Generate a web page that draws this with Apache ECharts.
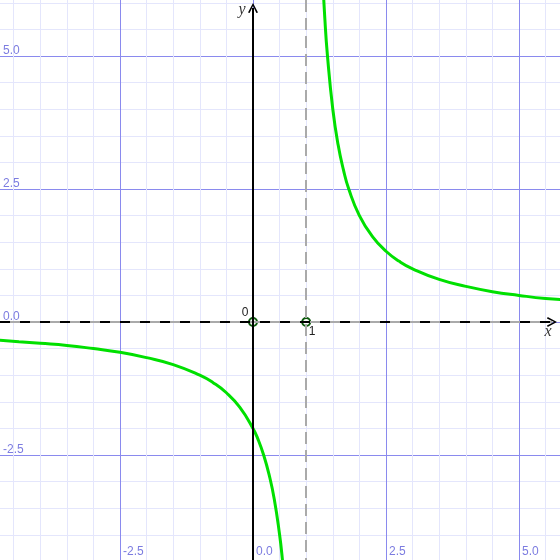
<!DOCTYPE html>
<html>
<head>
<meta charset="utf-8">
<script src="https://cdn.jsdelivr.net/npm/echarts@6/dist/echarts.min.js"></script>
<style>html,body{margin:0;padding:0;background:#fff}#c{width:560px;height:560px}</style>
</head>
<body>
<div id="c"></div>
<script>
// Curve values (two branches around the asymptote x = 1)
const leftX  = [-4.8, -4.4, -4.0, -3.5, -3.0, -2.5, -2.0, -1.5, -1.0, -0.75, -0.5, -0.25, 0.0, 0.1, 0.2, 0.3, 0.4, 0.5, 0.55, 0.6];
const leftY  = [-0.34, -0.37, -0.40, -0.44, -0.50, -0.57, -0.67, -0.80, -1.00, -1.14, -1.33, -1.60, -2.00, -2.22, -2.50, -2.86, -3.33, -4.00, -4.44, -5.00];
const rightX = [1.3, 1.35, 1.4, 1.5, 1.6, 1.7, 1.8, 2.0, 2.25, 2.5, 2.75, 3.0, 3.5, 4.0, 4.5, 5.0, 5.5, 5.8];
const rightY = [6.67, 5.71, 5.00, 4.00, 3.33, 2.86, 2.50, 2.00, 1.60, 1.33, 1.14, 1.00, 0.80, 0.67, 0.57, 0.50, 0.44, 0.42];
// Marked points on the x axis
const pointX = [0, 1];
const pointY = [0, 0];
const pointLabels = ['0', '1'];
// Axis extents and ticks
const xMin = -5, xMax = 6, yMin = -5, yMax = 6.5;
const minorStep = 0.5, majorStep = 2.5;
const asymptoteX = 1;
const xArrowEnd = 5.62, yArrowEnd = 5.9;
const axisNames = ['x', 'y'];

const chevron = 'path://M0,10 L5,0 L10,10 L8.4,10.8 L5,3.2 L1.6,10.8 Z';
const minorColor = '#e4e6fc';
const majorColor = '#8a8aee';
const labelColor = '#7c7ce0';

const chart = echarts.init(document.getElementById('c'), null, {renderer: 'canvas'});
const pair = (xs, ys) => xs.map((x, i) => [x, ys[i]]);

const option = {
  backgroundColor: '#ffffff',
  animation: false,
  grid: {left: -13, right: -12.2, top: -23.8, bottom: -28, containLabel: false, outerBoundsMode: 'none'},
  xAxis: [
    {type: 'value', min: xMin, max: xMax, interval: minorStep, axisLine: {show: false}, axisTick: {show: false}, axisLabel: {show: false},
     splitLine: {show: true, lineStyle: {color: minorColor, width: 1}}},
    {type: 'value', min: xMin, max: xMax, interval: majorStep, position: 'bottom', axisLine: {show: false, onZero: false}, axisTick: {show: false},
     axisLabel: {show: true, inside: true, margin: 30, showMinLabel: false, showMaxLabel: false, align: 'left', padding: [0, 0, 0, 3],
       color: labelColor, fontSize: 12, fontFamily: 'Liberation Sans, Arial, sans-serif', formatter: v => v.toFixed(1)},
     splitLine: {show: true, lineStyle: {color: majorColor, width: 1}}}
  ],
  yAxis: [
    {type: 'value', min: yMin, max: yMax, interval: minorStep, axisLine: {show: false}, axisTick: {show: false}, axisLabel: {show: false},
     splitLine: {show: true, lineStyle: {color: minorColor, width: 1}}},
    {type: 'value', min: yMin, max: yMax, interval: majorStep, position: 'left', axisLine: {show: false, onZero: false}, axisTick: {show: false},
     axisLabel: {show: true, inside: true, margin: 16, showMinLabel: false, showMaxLabel: false, align: 'left', verticalAlign: 'bottom', padding: [0, 0, 0, 0], lineHeight: 10,
       color: labelColor, fontSize: 12, fontFamily: 'Liberation Sans, Arial, sans-serif', formatter: v => v.toFixed(1)},
     splitLine: {show: true, lineStyle: {color: majorColor, width: 1}}}
  ],
  series: [
    {
      name: 'axes', type: 'line', data: [], z: 2,
      markLine: {
        silent: true, animation: false, symbol: ['none', 'none'],
        label: {show: false},
        data: [
          {xAxis: asymptoteX, lineStyle: {color: '#aaaaaa', width: 2, type: [12, 6]}},
          [{coord: [xMin, 0], lineStyle: {color: '#aaaaaa', width: 2, type: 'solid'}}, {coord: [xArrowEnd, 0]}],
          [{coord: [xMin, 0], symbol: 'none', lineStyle: {color: '#000000', width: 2, type: [10, 10], dashOffset: 7}}, {coord: [xArrowEnd, 0], symbol: chevron, symbolSize: [10, 10]}],
          [{coord: [0, yMin], symbol: 'none', lineStyle: {color: '#000000', width: 2, type: 'solid'}}, {coord: [0, yArrowEnd], symbol: chevron, symbolSize: [10, 10]}]
        ],
        itemStyle: {color: '#000'}
      }
    },
    {name: 'left', type: 'line', data: pair(leftX, leftY), smooth: true, showSymbol: false, z: 3,
     lineStyle: {color: '#00e000', width: 3}},
    {name: 'right', type: 'line', data: pair(rightX, rightY), smooth: true, showSymbol: false, z: 3,
     lineStyle: {color: '#00e000', width: 3}},
    {name: 'points', type: 'scatter', z: 4, symbol: 'circle', symbolSize: 8,
     data: pointX.map((x, i) => ({value: [x, pointY[i]], name: pointLabels[i],
       label: {offset: i === 0 ? [-8, -9] : [6, 10]}})),
     itemStyle: {color: '#ffffff', borderColor: '#0b5a0b', borderWidth: 2, opacity: 1},
     label: {show: true, position: 'inside', formatter: p => p.name, color: '#222', fontSize: 12, fontFamily: 'Liberation Sans, Arial, sans-serif'}},
    {name: 'axisNames', type: 'scatter', z: 5, symbolSize: 0,
     data: [{value: [xArrowEnd, 0], name: axisNames[0], label: {offset: [-4, 10]}},
            {value: [0, yArrowEnd], name: axisNames[1], label: {offset: [-11, 2]}}],
     label: {show: true, position: 'inside', formatter: p => p.name, color: '#000', fontSize: 16, fontStyle: 'italic', fontFamily: 'Liberation Serif, Times New Roman, serif'}}
  ]
};
chart.setOption(option);
</script>
</body>
</html>
